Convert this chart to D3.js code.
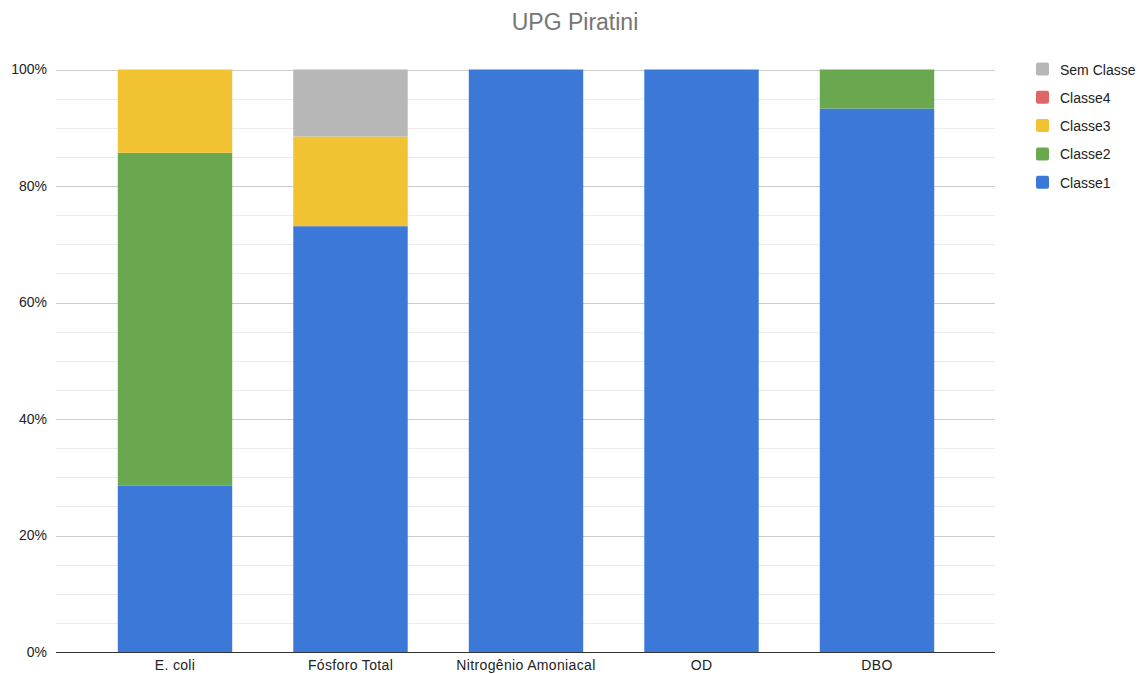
<!DOCTYPE html>
<html>
<head>
<meta charset="utf-8">
<script src="https://cdn.jsdelivr.net/npm/d3@7"></script>
<style>
  body { margin: 0; background: #fff; }
  svg { display: block; font-family: "Liberation Sans", Arial, sans-serif; }
</style>
</head>
<body>
<svg id="chart" width="1138" height="674"></svg>
<script>
// Parameters on the x axis
const categories = ["E. coli", "Fósforo Total", "Nitrogênio Amoniacal", "OD", "DBO"];

// Share of samples in each class (%), one value per category
const classe1   = [28.6, 73.1, 100, 100, 93.3];
const classe2   = [57.1, 0, 0, 0, 6.7];
const classe3   = [14.3, 15.4, 0, 0, 0];
const classe4   = [0, 0, 0, 0, 0];
const semClasse = [0, 11.5, 0, 0, 0];

const seriesNames = ["Classe1", "Classe2", "Classe3", "Classe4", "Sem Classe"];
const seriesValues = [classe1, classe2, classe3, classe4, semClasse];
const colors = ["#3c78d8", "#6aa84f", "#f1c232", "#e06666", "#b7b7b7"];

const yTicks = [0, 20, 40, 60, 80, 100];
const yMinorTicks = d3.range(0, 101, 5);

const svg = d3.select("#chart");
const plot = { left: 56, right: 995, top: 69.5, bottom: 652 };

const rows = categories.map((c, i) => {
  const r = { category: c };
  seriesNames.forEach((s, j) => { r[s] = seriesValues[j][i]; });
  return r;
});

const stack = d3.stack().keys(seriesNames);
const stacked = stack(rows);

const x = d3.scaleBand()
  .domain(categories)
  .range([87.25, 964.75])
  .paddingInner(0.348)
  .paddingOuter(0.174);

const y = d3.scaleLinear().domain([0, 100]).range([plot.bottom, plot.top]);

// Gridlines: light every 5 %, darker every 20 %
svg.append("g")
  .selectAll("line")
  .data(yMinorTicks.filter(t => t % 20 !== 0))
  .join("line")
  .attr("x1", plot.left).attr("x2", plot.right)
  .attr("y1", d => Math.round(y(d)) + 0.5).attr("y2", d => Math.round(y(d)) + 0.5)
  .attr("stroke", "#ebebeb");

svg.append("g")
  .selectAll("line")
  .data(yTicks.filter(t => t > 0))
  .join("line")
  .attr("x1", plot.left).attr("x2", plot.right)
  .attr("y1", d => Math.round(y(d)) + 0.5).attr("y2", d => Math.round(y(d)) + 0.5)
  .attr("stroke", "#cccccc");

// Stacked bars
svg.append("g")
  .selectAll("g")
  .data(stacked)
  .join("g")
  .attr("fill", (d, i) => colors[i])
  .selectAll("rect")
  .data(d => d)
  .join("rect")
  .attr("x", d => x(d.data.category))
  .attr("width", x.bandwidth())
  .attr("y", d => y(d[1]))
  .attr("height", d => y(d[0]) - y(d[1]));

// Baseline
svg.append("line")
  .attr("x1", plot.left).attr("x2", plot.right)
  .attr("y1", plot.bottom + 0.5).attr("y2", plot.bottom + 0.5)
  .attr("stroke", "#333");

// Y axis labels
const yAxis = d3.axisLeft(y).tickValues(yTicks).tickFormat(d => d + "%").tickSize(0).tickPadding(9);
const gy = svg.append("g").attr("transform", `translate(${plot.left},0)`).call(yAxis);
gy.select(".domain").remove();
gy.selectAll("text").attr("font-size", 14).attr("fill", "#222").attr("font-family", "'Liberation Sans', Arial, sans-serif");

// X axis labels
const xAxis = d3.axisBottom(x).tickSize(0).tickPadding(8);
const gx = svg.append("g").attr("transform", `translate(0,${plot.bottom})`).call(xAxis);
gx.select(".domain").remove();
gx.selectAll("text").attr("font-size", 14).attr("letter-spacing", 0.35).attr("fill", "#222").attr("font-family", "'Liberation Sans', Arial, sans-serif");

// Title
svg.append("text")
  .attr("x", 575).attr("y", 30)
  .attr("text-anchor", "middle")
  .attr("font-size", 23)
  .attr("fill", "#757575")
  .text("UPG Piratini");

// Legend, listed top to bottom in reverse stacking order
const legendItems = seriesNames.map((s, i) => ({ name: s, color: colors[i] })).reverse();
const legend = svg.append("g")
  .selectAll("g")
  .data(legendItems)
  .join("g")
  .attr("transform", (d, i) => `translate(1036,${62.5 + i * 28.3})`);
legend.append("rect")
  .attr("width", 13).attr("height", 13).attr("rx", 2)
  .attr("fill", d => d.color);
legend.append("text")
  .attr("x", 24).attr("y", 12)
  .attr("font-size", 14).attr("fill", "#222")
  .text(d => d.name);
</script>
</body>
</html>
